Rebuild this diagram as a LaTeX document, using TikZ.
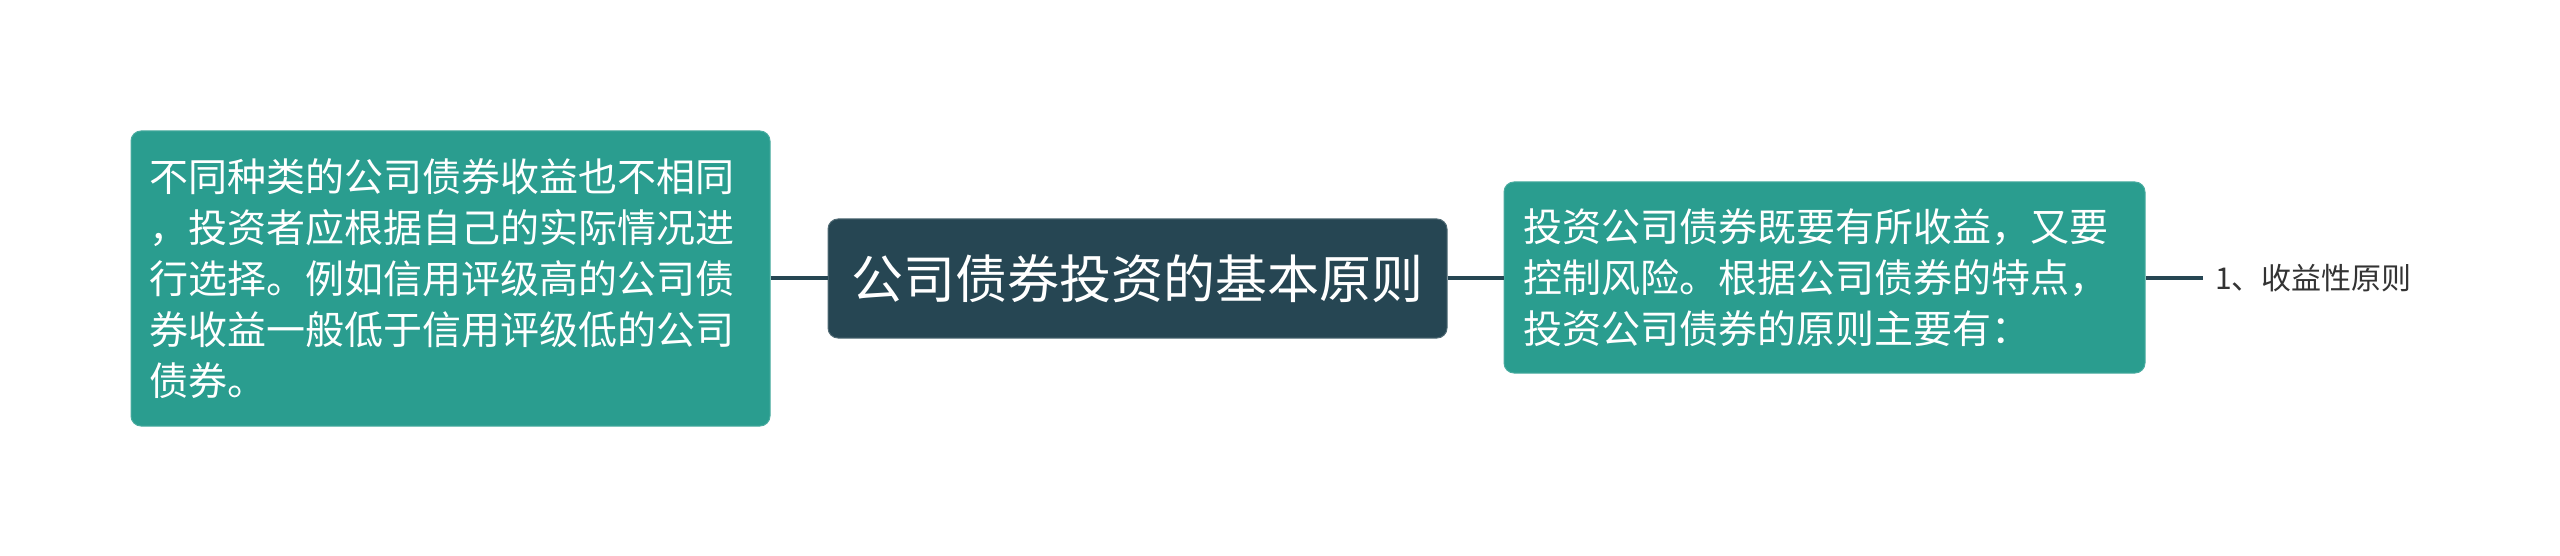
\documentclass[tikz,border=0pt]{standalone}
\usepackage{fontspec}
\setmainfont{Noto Sans CJK SC}
\definecolor{teal}{HTML}{2A9D8F}
\definecolor{navy}{HTML}{264653}
\definecolor{leaftext}{HTML}{333333}
\begin{document}
\begin{tikzpicture}[x=1pt,y=-1pt,
  topicbox/.style={rectangle, rounded corners=10pt, fill=teal, draw=teal!85!white, line width=1pt, text=white, align=left, inner xsep=18pt, inner ysep=0pt, font=\fontsize{39}{51}\selectfont},
  rootbox/.style={rectangle, rounded corners=10pt, fill=navy, draw=navy!80!white, line width=1pt, text=white, inner sep=0pt, minimum width=619pt, minimum height=119pt, font=\fontsize{52}{60}\selectfont},
  leafnode/.style={inner xsep=12pt, inner ysep=4pt, text=leaftext, font=\fontsize{30}{34}\selectfont},
  link/.style={draw=navy, line width=3.5pt}]
\useasboundingbox (0,0) rectangle (2560,556);
\fill[white] (0,0) rectangle (2560,556);
\node[rootbox] (root) at (1137.5,278.5) {公司债券投资的基本原则};
\node[topicbox, text width=603pt, minimum height=295pt] (left) at (450.5,278.5) {不同种类的公司债券收益也不相同\\，投资者应根据自己的实际情况进\\行选择。例如信用评级高的公司债\\券收益一般低于信用评级低的公司\\债券。};
\node[topicbox, text width=603pt, minimum height=191pt, inner xsep=19pt] (right) at (1824.5,277.5) {投资公司债券既要有所收益，又要\\控制风险。根据公司债券的特点，\\投资公司债券的原则主要有：};
\node[leafnode, anchor=west] (leaf) at (2203,278) {1、收益性原则};
\draw[link] (left.east |- 0,278) -- (root.west |- 0,278);
\draw[link] (root.east |- 0,278) -- (right.west |- 0,278);
\draw[link] (right.east |- 0,278) -- (leaf.west);
\end{tikzpicture}
\end{document}
